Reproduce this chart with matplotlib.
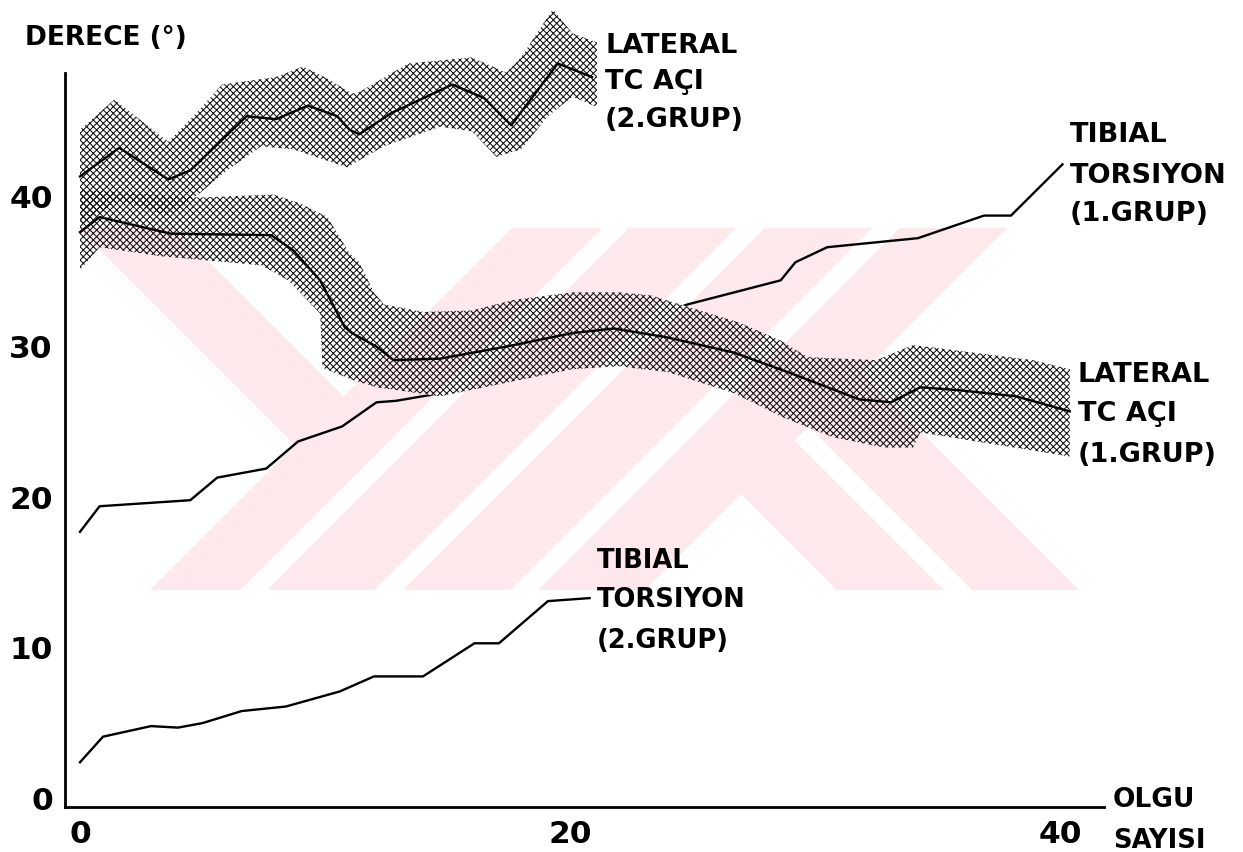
import numpy as np
import matplotlib
matplotlib.use("Agg")
import matplotlib.pyplot as plt
from matplotlib.patches import Polygon

# ---------------- data ----------------
# Tibial torsiyon, 2. grup
case_tib2 = [0, 0.94, 2.9, 4.0, 5.0, 6.6, 8.4, 10.6, 12.0, 14.0, 16.1, 17.1, 19.1, 20.8]
tib2 = [2.4, 4.1, 4.8, 4.7, 5.0, 5.8, 6.1, 7.1, 8.1, 8.1, 10.3, 10.3, 13.1, 13.3]

# Tibial torsiyon, 1. grup
case_tib1 = [0, 0.8, 4.5, 5.6, 7.6, 8.9, 10.7, 12.1, 12.9, 14.7, 24.8, 28.6, 29.2, 30.5,
             34.2, 36.9, 38.0, 40.1]
tib1 = [17.7, 19.4, 19.8, 21.3, 21.9, 23.7, 24.7, 26.3, 26.4, 26.9, 32.8, 34.4, 35.6, 36.6,
        37.2, 38.7, 38.7, 42.1]

# Lateral TC açı, 1. grup (mean and band)
case_ltc1 = [0, 0.8, 3.7, 7.8, 8.7, 9.8, 10.8, 11.1, 12.1, 12.8, 14.7, 17.4, 20.1, 21.8,
             24.0, 26.7, 28.9, 31.8, 33.1, 34.3, 35.9, 38.2, 40.4]
ltc1 = [37.6, 38.6, 37.5, 37.4, 36.4, 34.4, 31.3, 30.9, 30.0, 29.1, 29.2, 30.0, 30.9, 31.2,
        30.6, 29.6, 28.3, 26.5, 26.3, 27.3, 27.1, 26.7, 25.7]
case_ltc1_hi = [0, 4.9, 7.9, 9.0, 10.1, 11.0, 11.4, 12.0, 12.4, 14.0, 16.0, 17.7, 20.1, 22.0,
                23.3, 25.3, 26.9, 28.6, 29.7, 32.5, 34.0, 35.5, 38.9, 40.4]
ltc1_hi = [40.4, 39.9, 40.1, 39.5, 38.6, 36.2, 35.6, 33.6, 32.8, 32.3, 32.4, 33.1, 33.6, 33.6,
           33.4, 32.4, 31.6, 30.4, 29.3, 29.1, 30.1, 29.8, 29.1, 28.5]
case_ltc1_lo = [0, 0.8, 3.3, 7.4, 8.5, 9.8, 9.9, 11.1, 12.1, 14.7, 17.4, 20.1, 22.0, 24.0,
                26.7, 28.7, 30.7, 32.8, 34.0, 34.3, 36.2, 38.9, 40.4]
ltc1_lo = [35.1, 36.6, 36.0, 35.4, 34.4, 32.2, 28.6, 27.8, 27.3, 26.7, 27.6, 28.5, 28.7, 28.3,
           26.9, 25.3, 24.0, 23.3, 23.3, 24.3, 23.8, 23.1, 22.7]

# Lateral TC açı, 2. grup (mean and band)
case_ltc2 = [0, 1.6, 3.6, 4.5, 6.8, 8.0, 9.3, 10.5, 11.0, 11.4, 12.7, 15.2, 16.5, 17.6, 19.5, 20.9]
ltc2 = [41.3, 43.2, 41.1, 41.7, 45.3, 45.1, 46.0, 45.3, 44.4, 44.1, 45.5, 47.4, 46.5, 44.7, 48.8, 47.9]
case_ltc2_hi = [0, 1.4, 3.6, 4.8, 5.8, 8.0, 9.1, 10.1, 11.1, 11.4, 13.4, 16.0, 17.4, 18.0,
                19.3, 20.1, 21.1]
ltc2_hi = [44.4, 46.4, 43.6, 45.6, 47.4, 47.9, 48.6, 47.8, 46.8, 46.9, 48.8, 49.2, 48.2, 49.2,
           52.4, 50.8, 50.2]
case_ltc2_lo = [0, 1.6, 3.6, 4.9, 6.0, 7.4, 8.7, 10.9, 12.4, 14.7, 16.0, 17.0, 18.0, 19.1, 20.1, 21.1]
ltc2_lo = [38.1, 39.7, 38.7, 40.2, 41.7, 43.3, 43.1, 41.9, 43.3, 44.6, 44.3, 42.6, 43.1, 45.3, 46.6, 45.9]

xticks = [0, 20, 40]
yticks = [0, 10, 20, 30, 40]

# ---------------- figure ----------------
W, H = 1243, 852
plt.rcParams['font.family'] = ['DejaVu Sans']
plt.rcParams['font.weight'] = 'bold'
plt.rcParams['hatch.linewidth'] = 0.75

fig = plt.figure(figsize=(W / 100, H / 100), dpi=100)

XUNIT, X0PX = 24.5, 80.0
YUNIT, Y20PX = 15.06, 497.2
xlim = (-0.6, 41.8)
ylim = (-0.6, 53.0)
left = (X0PX + xlim[0] * XUNIT) / W
width = (xlim[1] - xlim[0]) * XUNIT / W
bottom_py = Y20PX - YUNIT * (ylim[0] - 20)
bottom = (H - bottom_py) / H
height = (ylim[1] - ylim[0]) * YUNIT / H
ax = fig.add_axes([left, bottom, width, height])
ax.set_xlim(*xlim)
ax.set_ylim(*ylim)
ax.patch.set_visible(False)

# ---- faint watermark of the scanned source (figure pixel coordinates) ----
def fpoly(pts):
    return [(x / W, 1 - y / H) for x, y in pts]

wm_color = '#fde8ec'
wm_shapes = []
for a, b in [(150, 240), (267, 374), (403, 510), (538, 645)]:          # "/" stripes
    wm_shapes.append([(a, 590), (b, 590), (b + 362, 228), (a + 362, 228)])
wm_shapes.append([(78, 228), (175, 228), (388.5, 441.5), (340, 490)])   # "\" band left
wm_shapes.append([(741, 494), (794.5, 440.5), (944, 590), (837, 590)])  # "\" stripes right
wm_shapes.append([(808.5, 426.5), (862, 373), (1079, 590), (972, 590)])


def add_watermark(zorder, clip=None):
    for pts in wm_shapes:
        p = Polygon(fpoly(pts), closed=True, transform=fig.transFigure,
                    facecolor=wm_color, edgecolor='none', zorder=zorder)
        ax.add_patch(p)
        if clip is None:
            p.set_clip_on(False)
        else:
            p.set_clip_on(True)
            p.set_clip_path(clip)


add_watermark(0)

# ---- lines that run under the bands ----
ax.plot(case_tib1, tib1, color='black', lw=1.7, zorder=2, clip_on=False)
ax.plot(case_tib2, tib2, color='black', lw=1.7, zorder=2, clip_on=False)


def band(xh, yh, xl, yl):
    xs = list(xh) + list(xl)[::-1]
    ys = list(yh) + list(yl)[::-1]
    base = ax.fill(xs, ys, facecolor='white', edgecolor='none', zorder=2.5, clip_on=False)[0]
    add_watermark(2.7, clip=base)
    ax.fill(xs, ys, facecolor='none', edgecolor='#111111', hatch='xxxxx',
            linewidth=0, zorder=3, clip_on=False)


band(case_ltc1_hi, ltc1_hi, case_ltc1_lo, ltc1_lo)
band(case_ltc2_hi, ltc2_hi, case_ltc2_lo, ltc2_lo)
ax.plot(case_ltc1, ltc1, color='black', lw=1.7, zorder=4, clip_on=False)
ax.plot(case_ltc2, ltc2, color='black', lw=1.7, zorder=4, clip_on=False)

# ---- axes styling ----
for s in ['top', 'right']:
    ax.spines[s].set_visible(False)
ax.spines['left'].set_linewidth(2)
ax.spines['bottom'].set_linewidth(2)
ax.spines['left'].set_bounds(ylim[0], 48.2)
ax.set_xticks(xticks)
ax.set_yticks(yticks)
ax.set_xticklabels([str(t) for t in xticks], fontsize=22.5, fontweight='bold')
ax.set_yticklabels([str(t) for t in yticks], fontsize=22.5, fontweight='bold')
ax.tick_params(axis='both', length=0)
ax.tick_params(axis='y', pad=9)
ax.tick_params(axis='x', pad=9)

# ---- texts (baseline positions in figure pixels) ----
def label(x, y, s, size=19.5):
    fig.text(x / W, 1 - y / H, s, fontsize=size, fontweight='bold', ha='left', va='baseline')


label(25, 45, 'DERECE (°)', 19)
label(1113, 807, 'OLGU', 19)
label(1113, 848, 'SAYISI', 18.5)

for y, s in zip([53, 89, 127], ['LATERAL', 'TC AÇI', '(2.GRUP)']):
    label(605, y, s)
for y, s in zip([142, 183, 221], ['TIBIAL', 'TORSIYON', '(1.GRUP)']):
    label(1070, y, s)
for y, s in zip([382, 421, 462], ['LATERAL', 'TC AÇI', '(1.GRUP)']):
    label(1078, y, s)
for y, s in zip([568, 607, 648], ['TIBIAL', 'TORSIYON', '(2.GRUP)']):
    label(597, y, s, 18.5)

fig.savefig('out.png', dpi=100)
